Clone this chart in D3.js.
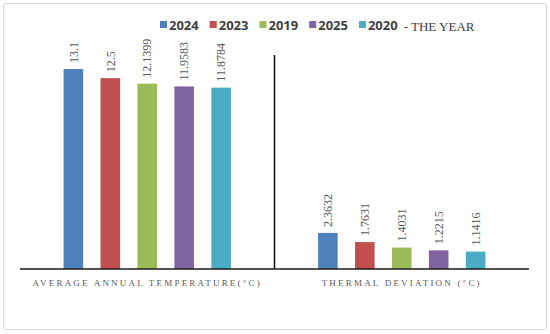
<!DOCTYPE html>
<html>
<head>
<meta charset="utf-8">
<script src="https://cdn.jsdelivr.net/npm/d3@7"></script>
<style>
  html, body { margin: 0; padding: 0; background: #fff; }
  svg { display: block; }
</style>
</head>
<body>
<svg id="chart" width="550" height="334"></svg>
<script>
const categories = ["AVERAGE ANNUAL TEMPERATURE(°C)", "THERMAL DEVIATION (°C)"];
const years = ["2024", "2023", "2019", "2025", "2020"];
const avgTemp = [13.1, 12.5, 12.1399, 11.9583, 11.8784];
const thermalDev = [2.3632, 1.7631, 1.4031, 1.2215, 1.1416];
const valueLabels = [["13.1", "12.5", "12.1399", "11.9583", "11.8784"],
                     ["2.3632", "1.7631", "1.4031", "1.2215", "1.1416"]];
const colors = ["#4F81BD", "#C0504D", "#9BBB59", "#8064A2", "#4BACC6"];
const legendSuffix = "- THE YEAR";

const seriesByCat = [avgTemp, thermalDev];
const svg = d3.select("#chart");

// outer border
svg.append("rect")
  .attr("x", 3.5).attr("y", 3.5).attr("width", 543).attr("height", 326)
  .attr("rx", 2).attr("fill", "#fff").attr("stroke", "#d9d9d9").attr("stroke-width", 1);

const x0 = d3.scaleBand().domain(categories).range([20, 529]).padding(0);
const x1 = d3.scaleBand().domain(years).range([0, x0.bandwidth()])
  .paddingInner(0.47).paddingOuter(1.18);
const y = d3.scaleLinear().domain([0, 13.1]).range([269, 69]);

const groups = svg.selectAll("g.cat").data(categories).join("g")
  .attr("class", "cat")
  .attr("transform", d => `translate(${x0(d)},0)`);

groups.each(function(cat, ci) {
  const g = d3.select(this);
  const data = years.map((yr, i) => ({ yr, v: seriesByCat[ci][i], lbl: valueLabels[ci][i], c: colors[i] }));
  g.selectAll("rect").data(data).join("rect")
    .attr("x", d => x1(d.yr))
    .attr("y", d => y(d.v))
    .attr("width", x1.bandwidth())
    .attr("height", d => y(0) - y(d.v))
    .attr("fill", d => d.c);
  g.selectAll("text.val").data(data).join("text")
    .attr("class", "val")
    .attr("transform", d => `translate(${x1(d.yr) + x1.bandwidth() / 2},${y(d.v) - 6}) rotate(-90)`)
    .attr("dy", "0.35em")
    .attr("text-anchor", "start")
    .attr("font-family", "'Liberation Serif', 'DejaVu Serif', serif")
    .attr("font-size", 12)
    .attr("fill", "#595959")
    .text(d => d.lbl);
});

// category labels
svg.selectAll("text.cat").data(categories).join("text")
  .attr("class", "cat")
  .attr("x", d => x0(d) + x0.bandwidth() / 2)
  .attr("y", 286)
  .attr("text-anchor", "middle")
  .attr("font-family", "'Liberation Serif', 'DejaVu Serif', serif")
  .attr("font-size", 9)
  .attr("letter-spacing", "2.2px")
  .attr("fill", "#595959")
  .text(d => d);

// baseline
svg.append("line")
  .attr("x1", 20).attr("x2", 529)
  .attr("y1", y(0)).attr("y2", y(0))
  .attr("stroke", "#1a1a1a").attr("stroke-width", 1.6);

// divider between categories
svg.append("line")
  .attr("x1", x0(categories[1])).attr("x2", x0(categories[1]))
  .attr("y1", 55).attr("y2", y(0))
  .attr("stroke", "#1a1a1a").attr("stroke-width", 1.6);

// legend
const legend = svg.append("g").attr("transform", "translate(160,25)");
let lx = 0;
years.forEach((yr, i) => {
  legend.append("rect").attr("x", lx).attr("y", -4).attr("width", 7).attr("height", 7).attr("fill", colors[i]);
  const t = legend.append("text")
    .attr("x", lx + 9).attr("y", 0).attr("dy", "0.35em")
    .attr("font-family", "'Open Sans', Lato, sans-serif")
    .attr("font-weight", "bold")
    .attr("font-size", 13)
    .attr("fill", "#404040")
    .text(yr);
  const w = t.node().getComputedTextLength();
  lx += 9 + w + 11;
});
legend.append("text")
  .attr("x", lx - 5).attr("y", 1).attr("dy", "0.35em")
  .attr("font-family", "'Liberation Serif', 'DejaVu Serif', serif")
  .attr("font-size", 13)
  .attr("fill", "#404040")
  .text(legendSuffix);
</script>
</body>
</html>
